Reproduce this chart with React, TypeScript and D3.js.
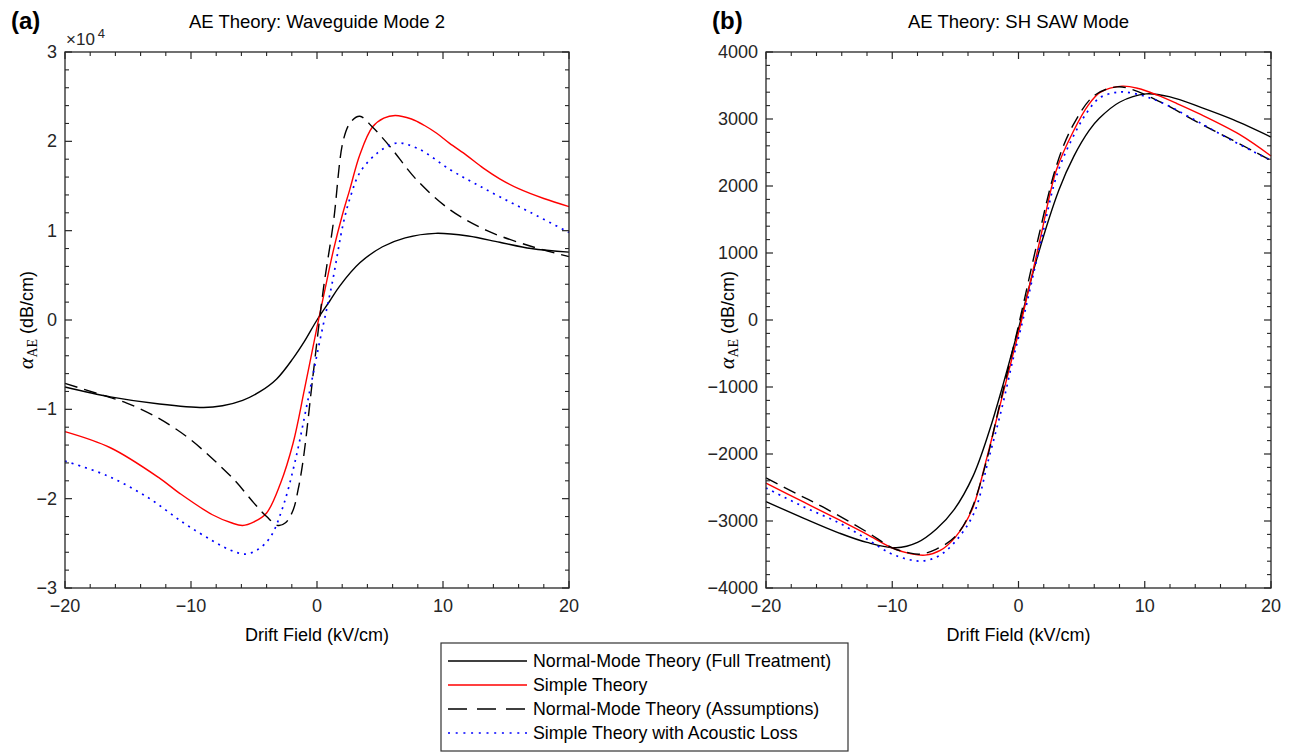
import React from 'react';
import * as d3 from 'd3';

type Pt = [number, number];

// ---------- tick values / labels ----------
const xMajorTicks = [-20, -10, 0, 10, 20];
const xMajorLabels = ['\u221220', '\u221210', '0', '10', '20'];
const wgYTicks = [-3, -2, -1, 0, 1, 2, 3];
const wgYLabels = ['\u22123', '\u22122', '\u22121', '0', '1', '2', '3'];
const sawYTicks = [-4000, -3000, -2000, -1000, 0, 1000, 2000, 3000, 4000];
const sawYLabels = ['\u22124000', '\u22123000', '\u22122000', '\u22121000', '0', '1000', '2000', '3000', '4000'];

// ---------- panel (a): Waveguide Mode 2 (units of 10^4 dB/cm) ----------
const wgFull: Pt[] = [
  [-20, -0.75], [-16.4, -0.86], [-12.5, -0.94], [-9, -0.98], [-7.5, -0.96], [-5.9, -0.9],
  [-4.5, -0.8], [-3.2, -0.66], [-1.9, -0.43], [-1, -0.24], [0, 0], [1, 0.21], [1.8, 0.38],
  [3.4, 0.64], [5.2, 0.82], [7, 0.92], [9.4, 0.97], [12, 0.94], [14.5, 0.87], [17, 0.8], [20, 0.76],
];
const wgSimple: Pt[] = [
  [-20, -1.25], [-16.4, -1.43], [-12.5, -1.77], [-10.9, -1.94], [-8.3, -2.18], [-6.8, -2.27],
  [-5.9, -2.3], [-5, -2.26], [-4, -2.16], [-2.9, -1.83], [-1.9, -1.38], [-1, -0.78], [0, -0.08],
  [0.63, 0.34], [1.3, 0.78], [2, 1.17], [2.6, 1.46], [3.4, 1.85], [4.4, 2.16], [5.3, 2.26],
  [6.2, 2.29], [7.5, 2.25], [8.5, 2.18], [9.5, 2.09], [10.5, 1.98], [11.9, 1.84], [13.2, 1.7],
  [14.5, 1.58], [16, 1.47], [18, 1.36], [20, 1.27],
];
const wgAssume: Pt[] = [
  [-20, -0.71], [-17.5, -0.82], [-15.1, -0.93], [-12.7, -1.09], [-10.3, -1.31], [-8.4, -1.54],
  [-6.5, -1.8], [-5, -2.05], [-4, -2.2], [-3.1, -2.3], [-2.5, -2.27], [-1.9, -2.13], [-1.5, -1.9],
  [-1.1, -1.57], [-0.3, -0.6], [0.5, 0.34], [1.3, 1.09], [2.1, 2.02], [2.7, 2.22], [3.4, 2.28],
  [4.4, 2.16], [5.8, 1.94], [7.9, 1.57], [10.6, 1.23], [13.5, 1.0], [17.1, 0.82], [20, 0.71],
];
const wgLoss: Pt[] = [
  [-20, -1.58], [-16.7, -1.74], [-13.5, -1.98], [-10.6, -2.27], [-8.3, -2.47], [-6.8, -2.58],
  [-5.7, -2.62], [-4.7, -2.57], [-3.7, -2.43], [-2.7, -2.09], [-1.75, -1.59], [-0.8, -0.95],
  [0.2, -0.25], [1.2, 0.41], [2.1, 1.09], [2.7, 1.4], [3.4, 1.65], [4.8, 1.87], [6.3, 1.98],
  [8, 1.92], [10.6, 1.68], [12.5, 1.53], [14.5, 1.38], [17, 1.2], [20, 0.98],
];

// ---------- panel (b): SH SAW Mode (dB/cm) ----------
const sawFull: Pt[] = [
  [-20, -2710], [-17, -2960], [-14.2, -3180], [-12, -3320], [-9.7, -3400], [-8, -3320],
  [-6.5, -3120], [-5.1, -2830], [-3.6, -2330], [-2.3, -1650], [-1.2, -950], [0, -130],
  [1.4, 880], [3.2, 1940], [4.4, 2450], [5.6, 2830], [6.4, 3010], [8, 3250], [10.1, 3375],
  [12, 3330], [14.5, 3170], [17, 2990], [20, 2731],
];
const sawSimple: Pt[] = [
  [-20, -2433], [-17, -2720], [-14.2, -2985], [-12, -3200], [-10, -3403], [-8.5, -3490],
  [-7.4, -3510], [-6.2, -3440], [-5, -3240], [-3.7, -2840], [-2.5, -2050], [-1.5, -1300],
  [-0.5, -560], [0.25, 0], [1.7, 1194], [3, 2239], [4.4, 2836], [5.5, 3200], [6.5, 3400],
  [8.2, 3490], [9.5, 3455], [11, 3355], [12.5, 3235], [14.3, 3080], [17.5, 2770], [20, 2448],
];
const sawAssume: Pt[] = [
  [-20, -2358], [-17.5, -2600], [-15.5, -2790], [-12, -3164], [-10, -3400], [-8.8, -3470],
  [-7.8, -3495], [-6.5, -3420], [-5, -3230], [-3.8, -2860], [-2.6, -2150], [-1.6, -1350],
  [-0.6, -560], [0.1, 0], [1.6, 1250], [3, 2300], [4.3, 2900], [6, 3350], [7.8, 3480],
  [9, 3440], [11.4, 3240], [14.3, 2940], [17, 2680], [20, 2380],
];
const sawLoss: Pt[] = [
  [-20, -2507], [-17, -2790], [-14.2, -3030], [-12, -3270], [-10.2, -3478], [-8.8, -3570],
  [-7.6, -3597], [-6.3, -3520], [-4.9, -3284], [-3.5, -2870], [-2.4, -2100], [-1.3, -1300],
  [-0.4, -560], [0.35, 0], [1.8, 1194], [3.1, 2200], [4.5, 2800], [5.5, 3120], [6.4, 3313],
  [7.5, 3390], [8.4, 3403], [9.8, 3350], [11.4, 3240], [14.3, 2950], [17, 2670], [20, 2380],
];

const legendLabels = [
  'Normal-Mode Theory (Full Treatment)',
  'Simple Theory',
  'Normal-Mode Theory (Assumptions)',
  'Simple Theory with Acoustic Loss',
];

const FONT = "'Liberation Sans', Arial, Helvetica, sans-serif";
const SERIF = "'Liberation Serif', 'DejaVu Serif', serif";
const AXIS = '#262626';

const styles = [
  { stroke: '#000000', dash: undefined as string | undefined, width: 1.4 },
  { stroke: '#ff0000', dash: undefined as string | undefined, width: 1.4 },
  { stroke: '#000000', dash: '13,7', width: 1.4 },
  { stroke: '#0000ff', dash: '2,5', width: 1.7 },
];

interface PanelProps {
  x0: number; x1: number; yTop: number; yBot: number;
  yDomain: [number, number];
  yTicks: number[]; yLabels: string[]; yMinorStep: number;
  series: Pt[][];
  title: string; tag: string; exponent?: boolean;
}

function Panel(p: PanelProps) {
  const x = d3.scaleLinear().domain([-20, 20]).range([p.x0, p.x1]);
  const y = d3.scaleLinear().domain(p.yDomain).range([p.yBot, p.yTop]);
  const line = d3.line<Pt>().x(d => x(d[0])).y(d => y(d[1])).curve(d3.curveCatmullRom.alpha(0.5));
  const xMinor = d3.range(-20, 20.001, 2).filter(v => Math.abs(v % 10) > 1e-6);
  const yMinor = d3.range(p.yDomain[0], p.yDomain[1] + p.yMinorStep / 2, p.yMinorStep)
    .filter(v => !p.yTicks.some(t => Math.abs(t - v) < p.yMinorStep / 4));
  const MAJ = 7, MIN = 4;
  const cx = (p.x0 + p.x1) / 2;
  const cy = (p.yTop + p.yBot) / 2;
  const labelX = p.x0 - 32;
  return (
    <g>
      <text x={p.x0 - 54} y={29} fontFamily={FONT} fontWeight="bold" fontSize={24} fill="#000">{p.tag}</text>
      <text x={cx} y={28} textAnchor="middle" fontFamily={FONT} fontSize={18.5} fill="#000">{p.title}</text>
      {p.series.map((s, i) => (
        <path key={i} d={line(s) || ''} fill="none" stroke={styles[i].stroke}
          strokeWidth={styles[i].width} strokeDasharray={styles[i].dash} />
      ))}
      <rect x={p.x0} y={p.yTop} width={p.x1 - p.x0} height={p.yBot - p.yTop} fill="none" stroke={AXIS} strokeWidth={1.3} />
      {xMajorTicks.map(v => (
        <g key={'xm' + v}>
          <line x1={x(v)} x2={x(v)} y1={p.yBot} y2={p.yBot - MAJ} stroke={AXIS} strokeWidth={1.2} />
          <line x1={x(v)} x2={x(v)} y1={p.yTop} y2={p.yTop + MAJ} stroke={AXIS} strokeWidth={1.2} />
        </g>
      ))}
      {xMinor.map(v => (
        <g key={'xn' + v}>
          <line x1={x(v)} x2={x(v)} y1={p.yBot} y2={p.yBot - MIN} stroke={AXIS} strokeWidth={1.1} />
          <line x1={x(v)} x2={x(v)} y1={p.yTop} y2={p.yTop + MIN} stroke={AXIS} strokeWidth={1.1} />
        </g>
      ))}
      {p.yTicks.map(v => (
        <g key={'ym' + v}>
          <line x1={p.x0} x2={p.x0 + MAJ} y1={y(v)} y2={y(v)} stroke={AXIS} strokeWidth={1.2} />
          <line x1={p.x1} x2={p.x1 - MAJ} y1={y(v)} y2={y(v)} stroke={AXIS} strokeWidth={1.2} />
        </g>
      ))}
      {yMinor.map(v => (
        <g key={'yn' + v}>
          <line x1={p.x0} x2={p.x0 + MIN} y1={y(v)} y2={y(v)} stroke={AXIS} strokeWidth={1.1} />
          <line x1={p.x1} x2={p.x1 - MIN} y1={y(v)} y2={y(v)} stroke={AXIS} strokeWidth={1.1} />
        </g>
      ))}
      {xMajorTicks.map((v, i) => (
        <text key={'xl' + v} x={x(v)} y={p.yBot + 24} textAnchor="middle" fontFamily={FONT} fontSize={18} fill={AXIS}>{xMajorLabels[i]}</text>
      ))}
      {p.yTicks.map((v, i) => (
        <text key={'yl' + v} x={p.x0 - 8} y={y(v) + 6} textAnchor="end" fontFamily={FONT} fontSize={18} fill={AXIS}>{p.yLabels[i]}</text>
      ))}
      <text x={cx} y={p.yBot + 53} textAnchor="middle" fontFamily={FONT} fontSize={18} fill="#000">Drift Field (kV/cm)</text>
      <text transform={`translate(${labelX},${cy}) rotate(-90)`} textAnchor="middle" fontFamily={FONT} fontSize={18} fill="#000">
        <tspan fontFamily={SERIF} fontStyle="italic" fontSize={22}>α</tspan>
        <tspan fontFamily={SERIF} fontSize={14} dy={4}>AE</tspan>
        <tspan dy={-4}> (dB/cm)</tspan>
      </text>
      {p.exponent && (
        <text x={p.x0 + 1} y={p.yTop - 7} fontFamily={FONT} fontSize={17} fill={AXIS}>
          ×10<tspan fontSize={13} dx={3} dy={-7}>4</tspan>
        </text>
      )}
    </g>
  );
}

function Legend() {
  const bx = 441, by = 643, bw = 407, bh = 108;
  const rows = [661, 685, 709, 733];
  return (
    <g>
      <rect x={bx} y={by} width={bw} height={bh} fill="#fff" stroke="#333" strokeWidth={1.2} />
      {legendLabels.map((t, i) => (
        <g key={t}>
          <line x1={448} x2={527} y1={rows[i]} y2={rows[i]} stroke={styles[i].stroke}
            strokeWidth={styles[i].width} strokeDasharray={i === 2 ? '19,10' : i === 3 ? '2,5.7' : undefined} />
          <text x={533} y={rows[i] + 6} fontFamily={FONT} fontSize={17.8} fill="#000">{t}</text>
        </g>
      ))}
    </g>
  );
}

export default function App() {
  return (
    <svg width={1295} height={754} style={{ position: 'absolute', left: 0, top: 0, background: '#fff' }}>
      <rect x={0} y={0} width={1295} height={754} fill="#fff" />
      <Panel x0={65} x1={569} yTop={52} yBot={588} yDomain={[-3, 3]}
        yTicks={wgYTicks} yLabels={wgYLabels} yMinorStep={0.2}
        series={[wgFull, wgSimple, wgAssume, wgLoss]}
        title="AE Theory: Waveguide Mode 2" tag="(a)" exponent />
      <Panel x0={766} x1={1271} yTop={52} yBot={588} yDomain={[-4000, 4000]}
        yTicks={sawYTicks} yLabels={sawYLabels} yMinorStep={200}
        series={[sawFull, sawSimple, sawAssume, sawLoss]}
        title="AE Theory: SH SAW Mode" tag="(b)" />
      <Legend />
    </svg>
  );
}
